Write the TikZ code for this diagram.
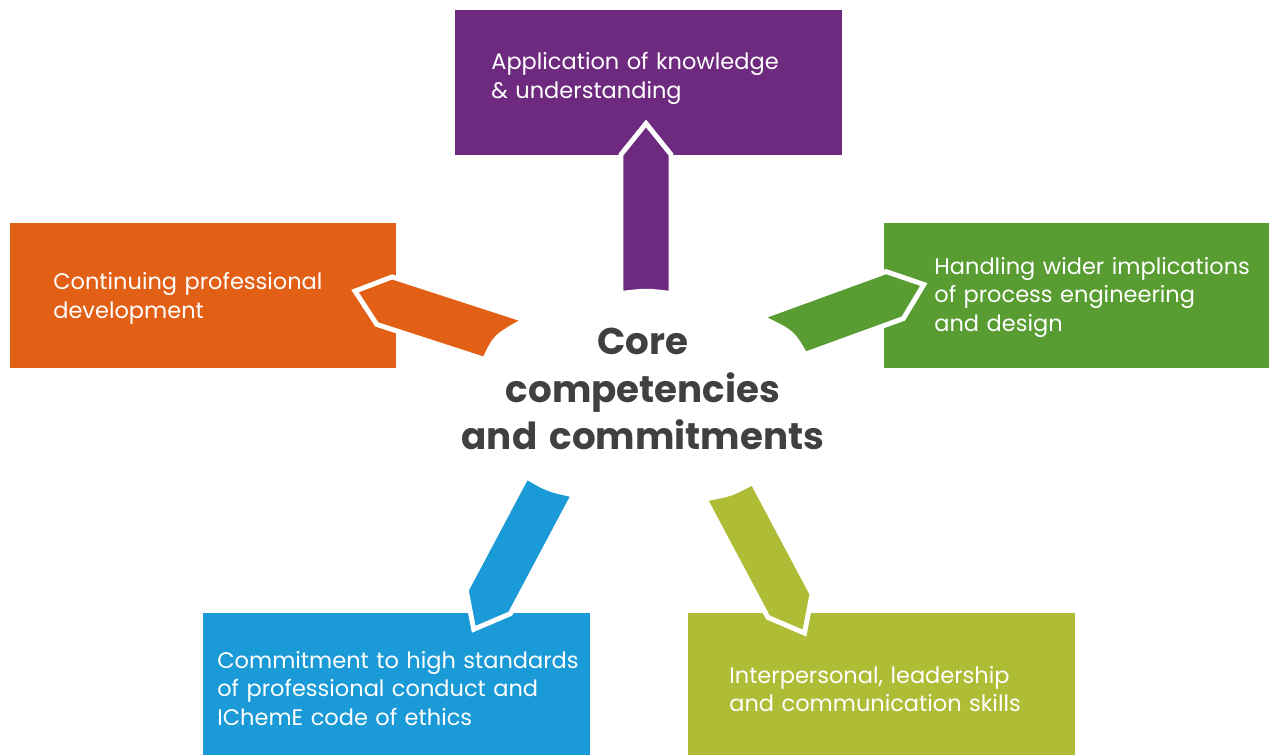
\documentclass[tikz,border=0pt]{standalone}
\usepackage{fontspec}
\setmainfont{Poppins}
\usetikzlibrary{positioning}

\definecolor{knowPurple}{RGB}{110,42,126}
\definecolor{cpdOrange}{RGB}{226,96,22}
\definecolor{widerGreen}{RGB}{88,156,50}
\definecolor{ethicsBlue}{RGB}{26,154,214}
\definecolor{skillsLime}{RGB}{174,188,54}
\definecolor{coreGrey}{RGB}{64,64,64}

\tikzset{
  box/.style={rectangle, inner sep=0pt, minimum width=7.74cm, minimum height=2.9cm},
  boxtext/.style={anchor=base west, inner sep=0pt, text=white, text width=7.5cm, align=left,
    font=\fontsize{12.8}{16.3}\selectfont},
  arrowline/.style={draw=white, line width=2.8pt, line join=miter}
}

\newcommand{\compArrow}[7]{%
  \begin{scope}[shift={(#2)}, rotate=#3]
    \filldraw[fill=#1, arrowline] (#5,-25) -- (#4-31,-25) -- (#4,0) -- (#4-31,25) -- (#6,25)
      .. controls ({(#5+#6)/2+#7},0) .. (#5,-25) -- cycle;
  \end{scope}}

\begin{document}
\begin{tikzpicture}[x=0.02cm, y=0.02cm]
    \useasboundingbox (0,0) rectangle (1269,755);

    \node[box, fill=knowPurple] (know) at (648.5, 672.5) {};
    \node[box, fill=cpdOrange] (cpd) at (203, 459.5) {};
    \node[box, fill=widerGreen, minimum width=7.7cm] (wider) at (1076.5, 459.5) {};
    \node[box, fill=ethicsBlue, minimum height=2.84cm] (ethics) at (396.5, 71) {};
    \node[box, fill=skillsLime, minimum height=2.84cm] (skills) at (881.5, 71) {};

    \node[boxtext] (knowText) at (491, 685.5) {Application of knowledge\\\& understanding};
    \node[boxtext] (cpdText) at (53, 465) {Continuing professional\\development};
    \node[boxtext] (widerText) at (934, 480.7) {Handling wider implications\\of process engineering\\and design};
    \node[boxtext] (ethicsText) at (217, 86.7) {Commitment to high standards\\of professional conduct and\\IChemE code of ethics};
    \node[boxtext] (skillsText) at (729, 72) {Interpersonal, leadership\\and communication skills};

    \node[anchor=base, inner sep=0pt, text=coreGrey, text width=8cm, align=center,
      font=\fontsize{21.2}{27}\selectfont\bfseries] (core) at (643, 400)
      {Core\\competencies\\and commitments};

    \coordinate (knowBase) at (646, 461.5);
    \coordinate (cpdBase) at (514.8, 412);
    \coordinate (widerBase) at (771.9, 415.2);
    \coordinate (ethicsBase) at (547.4, 264.3);
    \coordinate (skillsBase) at (728.1, 265.7);

    \compArrow{knowPurple}{knowBase}{90}{170}{0}{0}{3}
    \compArrow{cpdOrange}{cpdBase}{162}{168}{-2.5}{23.5}{10}
    \compArrow{widerGreen}{widerBase}{20}{161.7}{26.1}{-2.5}{10}
    \compArrow{ethicsBlue}{ethicsBase}{242}{157}{-2.5}{-8.5}{4}
    \compArrow{skillsLime}{skillsBase}{298}{162.8}{-2.5}{5.5}{4}
\end{tikzpicture}
\end{document}
